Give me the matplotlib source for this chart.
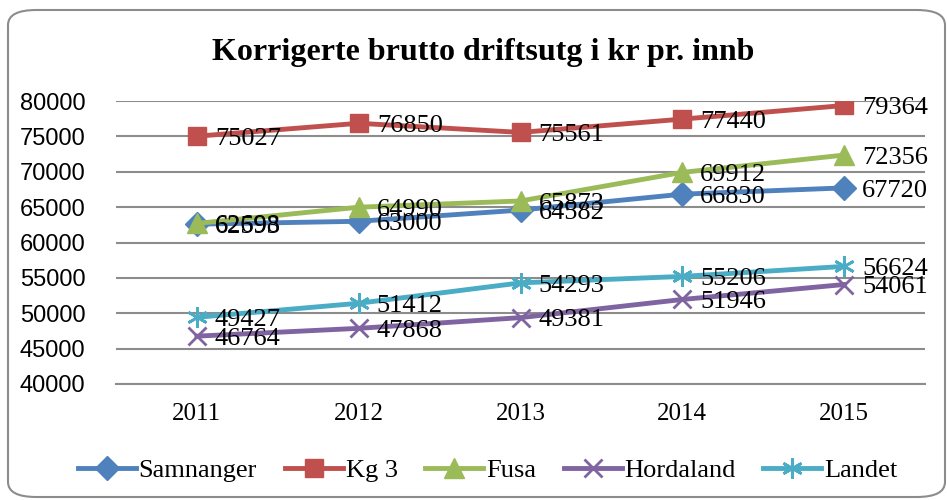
import matplotlib.pyplot as plt
from matplotlib.patches import FancyBboxPatch

years = ["2011", "2012", "2013", "2014", "2015"]
samnanger = [62593, 63000, 64582, 66830, 67720]
kg3 = [75027, 76850, 75561, 77440, 79364]
fusa = [62698, 64990, 65873, 69912, 72356]
hordaland = [46764, 47868, 49381, 51946, 54061]
landet = [49427, 51412, 54293, 55206, 56624]

series = [
    ("Samnanger", samnanger, "#4F81BD", "D", 12),
    ("Kg 3", kg3, "#C0504D", "s", 13),
    ("Fusa", fusa, "#9BBB59", "^", 14),
    ("Hordaland", hordaland, "#8064A2", "x", 13),
    ("Landet", landet, "#4BACC6", (6, 2, 0), 15),
]

plt.rcParams['font.family'] = ['Liberation Serif', 'DejaVu Serif']

fig = plt.figure(figsize=(9.47, 5), dpi=100)
border = FancyBboxPatch((8 / 947, 3 / 500), 937 / 947, 487 / 500,
                        boxstyle="round,pad=0,rounding_size=0.03",
                        transform=fig.transFigure, facecolor="white",
                        edgecolor="#8c8c8c", linewidth=1.5, zorder=-10)
fig.patches.append(border)

ax = fig.add_axes([116 / 947, 1 - 384 / 500, 809 / 947, 283 / 500])
ax.set_facecolor("none")
x = range(len(years))
for name, vals, color, marker, ms in series:
    mew = 2 if marker in ("x", (6, 2, 0)) else 1
    ax.plot(x, vals, color=color, marker=marker, markersize=ms, linewidth=3.5,
            markeredgewidth=mew, label=name, zorder=3)
    for xi, v in zip(x, vals):
        ax.annotate(str(v), (xi, v), xytext=(13, -2), textcoords="offset points",
                    ha="left", va="center", fontsize=19, zorder=4)

ax.set_xlim(-0.5, 4.5)
ax.set_ylim(40000, 80000)
ax.set_yticks(range(40000, 80001, 5000))
ax.set_xticks(list(x))
ax.set_xticklabels(years)
ax.grid(axis="y", color="#8c8c8c", linewidth=1.5)
ax.set_axisbelow(True)
for s in ["top", "right", "left"]:
    ax.spines[s].set_visible(False)
ax.spines["bottom"].set_color("#8c8c8c")
ax.spines["bottom"].set_linewidth(1.5)
ax.tick_params(axis="both", length=0)
ax.tick_params(axis="y", pad=22, labelsize=17)
ax.tick_params(axis="x", pad=14, labelsize=18)
for lbl in ax.get_yticklabels():
    lbl.set_fontfamily(['Liberation Sans', 'DejaVu Sans'])

fig.text(0.51, 0.895, "Korrigerte brutto driftsutg i kr pr. innb",
         ha="center", va="center", fontsize=23, fontweight="bold")

fig.legend(loc="center", bbox_to_anchor=(0.515, 0.06), ncol=5, frameon=False,
           fontsize=19, handlelength=2.2, columnspacing=1.05, handletextpad=0.1)

fig.savefig("out.png", dpi=100)
